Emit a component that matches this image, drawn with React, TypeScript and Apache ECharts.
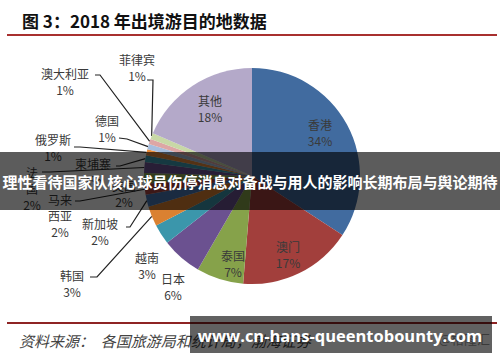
import React, { useEffect, useRef } from "react";
import * as echarts from "echarts";

const categories = ["香港", "澳门", "泰国", "日本", "越南", "韩国", "新加坡", "马来西亚", "美国", "法国", "柬埔寨", "俄罗斯", "德国", "澳大利亚", "菲律宾", "其他"];
const labelNames = ["香港", "澳门", "泰国", "日本", "越南", "韩国", "新加坡", "马来\n西亚", "美国", "法\n国", "柬埔寨", "俄罗斯", "德国", "澳大利亚", "菲律宾", "其他"];
const shares = [34, 17, 7, 6, 3, 3, 1.8, 1.6, 1.6, 1.6, 1.0, 0.9, 0.8, 0.8, 0.9, 18.4];
const colors = ["#416B9F", "#A23F3C", "#86A24A", "#6B5190", "#3B96AB", "#DA8131", "#4A79B4", "#A84440", "#8DAA50", "#6F5495", "#3F9DB3", "#E88C3A", "#A6BEDE", "#DDA6A5", "#C8D8A6", "#B4A9C9"];

// label anchor (center of text block) per slice
const labelPos: [number, number][] = [
  [320, 132], [288, 254], [233, 263], [173, 286], [147, 265], [72, 283], [100, 231], [60, 215],
  [124, 193], [32, 188], [93, 171], [53, 147], [107, 128], [65, 81], [137, 67], [210, 108],
];
// leader line elbow and end (null = no line)
const leader: ([number, number][] | null)[] = [
  null, null, null, null, null,
  [[97, 277], [90, 277]],
  [[130, 227], [126, 227]],
  [[80, 201], [75, 201]],
  null,
  [[50, 172], [42, 172]],
  [[120, 166], [116, 166]],
  [[80, 147], [74, 147]],
  [[127, 139], [119, 138]],
  [[100, 75], [95, 75]],
  [[153, 80], [147, 80]],
  null,
];

export default function App() {
  const ref = useRef<HTMLDivElement>(null);
  useEffect(() => {
    document.body.style.margin = "0";
    const chart = echarts.init(ref.current!, null, { renderer: "svg" });
    const cjk = "'Noto Sans CJK SC', 'Noto Sans', sans-serif";
    chart.setOption({
      animation: false,
      backgroundColor: "#ffffff",
      title: {
        text: "图 3：2018 年出境游目的地数据",
        left: 17,
        top: 7,
        textStyle: { fontSize: 17, fontWeight: "bold", color: "#111", fontFamily: cjk },
      },
      series: [
        {
          type: "pie",
          center: [252, 176],
          radius: 108,
          startAngle: 90,
          clockwise: true,
          avoidLabelOverlap: false,
          label: {
            show: true,
            position: "outside",
            color: "#3a3a3a",
            fontSize: 12,
            lineHeight: 16,
            fontFamily: cjk,
            formatter: (p: any) => `${labelNames[p.dataIndex]}\n${Math.round(p.value)}%`,
          },
          labelLine: { show: true, lineStyle: { color: "#222", width: 1.2 } },
          labelLayout: (params: any) => {
            const i = params.dataIndex;
            const pos = labelPos[i];
            const out: any = { x: pos[0], y: pos[1], align: "center", verticalAlign: "middle", hideOverlap: false, moveOverlap: false };
            const l = leader[i];
            if (l && params.labelLinePoints) {
              out.labelLinePoints = [params.labelLinePoints[0], l[0], l[1]];
            }
            return out;
          },
          data: categories.map((c, i) => ({
            name: c,
            value: shares[i],
            itemStyle: { color: colors[i] },
            labelLine: { show: leader[i] !== null },
          })),
        },
      ],
      graphic: [
        { type: "line", shape: { x1: 7, y1: 35, x2: 497, y2: 35 }, style: { stroke: "#A8302F", lineWidth: 2 }, z: 10 },
        { type: "line", shape: { x1: 7, y1: 323, x2: 497, y2: 323 }, style: { stroke: "#8E2424", lineWidth: 2 }, z: 10 },
        {
          type: "text", x: 19, y: 340, z: 10,
          style: { text: "资料来源：  各国旅游局和统计局，渤海证券", fontSize: 15, fontStyle: "italic", fill: "#444", fontFamily: cjk, verticalAlign: "middle" },
        },
        {
          type: "text", x: 490, y: 338, z: 10,
          style: { text: "@格隆汇", fontSize: 13, fill: "#999", fontFamily: cjk, align: "right", verticalAlign: "middle" },
        },
        { type: "rect", shape: { x: 0, y: 152, width: 500, height: 58 }, style: { fill: "rgba(0,0,0,0.64)" }, z: 100 },
        {
          type: "text", x: 250, y: 181, z: 101,
          style: { text: "理性看待国家队核心球员伤停消息对备战与用人的影响长期布局与舆论期待", fontSize: 15, fontWeight: "bold", fill: "#fff", fontFamily: cjk, align: "center", verticalAlign: "middle" },
        },
        { type: "rect", shape: { x: 190, y: 316, width: 302, height: 37 }, style: { fill: "rgba(0,0,0,0.62)" }, z: 100 },
        {
          type: "text", x: 340, y: 335, z: 101,
          style: { text: "www.cn-hans-queentobounty.com", fontSize: 16.5, fontWeight: "bold", fill: "#fff", fontFamily: "'Open Sans', sans-serif", align: "center", verticalAlign: "middle" },
        },
      ],
    });
    return () => chart.dispose();
  }, []);
  return <div ref={ref} style={{ width: 500, height: 362 }} />;
}
